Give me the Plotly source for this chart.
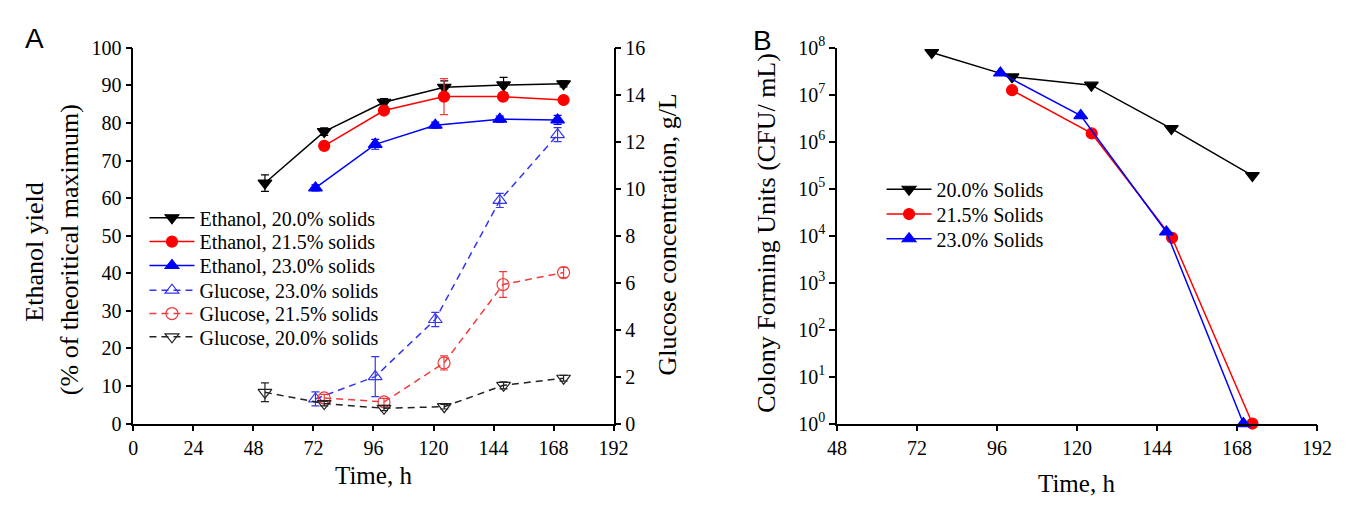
import plotly.graph_objects as go

# ---------------- Panel A data ----------------
t_20 = [52.6, 76.3, 100.2, 124.3, 148.0, 172.0]
t_215 = [76.3, 100.2, 124.2, 147.8, 172.0]
t_23 = [72.8, 96.7, 120.7, 146.5, 169.6]

eth20 = [64.0, 77.7, 85.5, 89.5, 90.1, 90.4]
eth20_err = [2.2, 1.0, 1.0, 1.7, 2.0, 0.8]
eth215 = [73.9, 83.3, 87.0, 87.0, 86.1]
eth215_err = [0.8, 1.0, 4.8, 0.8, 0.8]
eth23 = [62.7, 74.3, 79.4, 81.0, 80.8]
eth23_err = [0.8, 1.3, 0.8, 0.8, 1.2]

glu23 = [1.05, 2.0, 4.43, 9.5, 12.3]
glu23_err = [0.3, 0.85, 0.3, 0.3, 0.3]
glu215 = [1.09, 0.92, 2.58, 5.92, 6.43]
glu215_err = [0.15, 0.15, 0.3, 0.55, 0.22]
glu20 = [1.33, 0.85, 0.65, 0.72, 1.63, 1.93]
glu20_err = [0.4, 0.1, 0.1, 0.1, 0.15, 0.12]

# ---------------- Panel B data ----------------
tb_20 = [76.4, 100.5, 124.3, 148.3, 172.6]
cfu20 = [7.9e7, 2.4e7, 1.6e7, 1.9e6, 1.9e5]
tb_215 = [100.5, 124.4, 148.5, 172.6]
cfu215 = [1.25e7, 1.5e6, 9.0e3, 1.0]
tb_23 = [97.0, 121.1, 146.8, 169.9]
cfu23 = [2.9e7, 3.6e6, 1.2e4, 1.0]

# ---------------- Tick labels ----------------
xA_ticks = [0, 24, 48, 72, 96, 120, 144, 168, 192]
xB_ticks = [48, 72, 96, 120, 144, 168, 192]
yA_ticks = [0, 10, 20, 30, 40, 50, 60, 70, 80, 90, 100]
y2A_ticks = [0, 2, 4, 6, 8, 10, 12, 14, 16]
yB_exps = [0, 1, 2, 3, 4, 5, 6, 7, 8]
yB_ticktext = [f"10<sup>{e}</sup>" for e in yB_exps]
yB_tickvals = [10 ** e for e in yB_exps]

SERIF = "Liberation Serif, Times New Roman, serif"
BLACK = "#000000"
RED = "#ff0000"
BLUE = "#0000ff"
LRED = "#f03c3c"
LBLUE = "#3535f0"

W, H = 1350, 506


def px(x):
    return x / W


def py(y):
    return 1 - y / H


fig = go.Figure()
legend_layouts = {}


def add_line(x, y, err, name, color, symbol, dash, xaxis, yaxis, legend, lx, ly, size=11, errcolor=None):
    kw = {}
    if err is not None:
        kw["error_y"] = dict(type="data", array=err, visible=True, color=errcolor or color,
                             thickness=1.2, width=4)
    fig.add_trace(go.Scatter(
        x=x, y=y, name=name, mode="lines+markers",
        line=dict(color=color, width=1.5, dash=dash),
        marker=dict(symbol=symbol, size=size, color=color,
                    line=dict(color=color, width=1.2)),
        xaxis=xaxis, yaxis=yaxis, legend=legend, cliponaxis=False, **kw))
    legend_layouts[legend] = dict(x=px(lx), y=py(ly), xanchor="left", yanchor="middle",
                                  font=dict(family=SERIF, size=20, color=BLACK),
                                  bgcolor="rgba(0,0,0,0)", itemwidth=45, borderwidth=0)


LAX, LBX = 137, 888
# Panel A
add_line(t_20, eth20, eth20_err, "Ethanol, 20.0% solids", BLACK, "triangle-down", "solid", "x", "y", "legend", LAX, 215, 12)
add_line(t_215, eth215, eth215_err, "Ethanol, 21.5% solids", RED, "circle", "solid", "x", "y", "legend2", LAX, 240, 11, LRED)
add_line(t_23, eth23, eth23_err, "Ethanol, 23.0% solids", BLUE, "triangle-up", "solid", "x", "y", "legend3", LAX, 265, 12)
add_line(t_23, glu23, glu23_err, "Glucose, 23.0% solids", LBLUE, "triangle-up-open", "7px,5px", "x", "y2", "legend4", LAX, 291, 12)
add_line(t_215, glu215, glu215_err, "Glucose, 21.5% solids", LRED, "circle-open", "7px,5px", "x", "y2", "legend5", LAX, 315.5, 12)
add_line(t_20, glu20, glu20_err, "Glucose, 20.0% solids", "#222222", "triangle-down-open", "7px,5px", "x", "y2", "legend6", LAX, 340, 12)

# Panel B
add_line(tb_20, cfu20, None, "20.0% Solids", BLACK, "triangle-down", "solid", "x2", "y3", "legend7", LBX, 185, 12)
add_line(tb_215, cfu215, None, "21.5% Solids", RED, "circle", "solid", "x2", "y3", "legend8", LBX, 211, 11)
add_line(tb_23, cfu23, None, "23.0% Solids", BLUE, "triangle-up", "solid", "x2", "y3", "legend9", LBX, 237, 12)

xA = [px(125.7), px(615.0)]
xB = [px(842.7), px(1331.7)]
yD = [py(431.0), py(36.5)]

axis_common = dict(showline=True, linecolor=BLACK, linewidth=1.5, ticks="outside",
                   ticklen=6, tickwidth=1.5, tickcolor=BLACK, showgrid=False,
                   zeroline=False, tickfont=dict(family=SERIF, size=20, color=BLACK))

fig.update_layout(
    width=W, height=H, margin=dict(l=0, r=0, t=0, b=0),
    paper_bgcolor="white", plot_bgcolor="white",
    font=dict(family=SERIF, color=BLACK),
    xaxis=dict(domain=xA, range=[0, 192], tickvals=xA_ticks, anchor="y", **axis_common),
    yaxis=dict(domain=yD, range=[0, 100], tickvals=yA_ticks, anchor="x", **axis_common),
    yaxis2=dict(domain=yD, range=[0, 16], tickvals=y2A_ticks, anchor="x", overlaying="y",
                side="right", **axis_common),
    xaxis2=dict(domain=xB, range=[48, 192], tickvals=xB_ticks, anchor="y3", **axis_common),
    yaxis3=dict(domain=yD, type="log", range=[0, 8], tickvals=yB_tickvals, ticktext=yB_ticktext,
                anchor="x2", **axis_common),
    showlegend=True,
    **legend_layouts,
)

ann = [
    dict(text="A", x=px(25), y=py(27), font=dict(family="Liberation Sans, Arial", size=28)),
    dict(text="B", x=px(767), y=py(29), font=dict(family="Liberation Sans, Arial", size=28)),
    dict(text="Time, h", x=px(370), y=py(486), font=dict(family=SERIF, size=25)),
    dict(text="Time, h", x=px(1087), y=py(494), font=dict(family=SERIF, size=25)),
    dict(text="Ethanol yield", x=px(25), y=py(251), textangle=-90, font=dict(family=SERIF, size=26)),
    dict(text="(% of theoritical maximum)", x=px(60), y=py(248), textangle=-90,
         font=dict(family=SERIF, size=26)),
    dict(text="Glucose concentration, g/L", x=px(670), y=py(233), textangle=-90,
         font=dict(family=SERIF, size=26)),
    dict(text="Colony Forming Units (CFU/ mL)", x=px(770), y=py(231), textangle=-90,
         font=dict(family=SERIF, size=26)),
]
for a in ann:
    a.update(xref="paper", yref="paper", showarrow=False, xanchor="center", yanchor="middle")
    a["font"]["color"] = BLACK
fig.update_layout(annotations=ann)

fig.write_html("out.html")
